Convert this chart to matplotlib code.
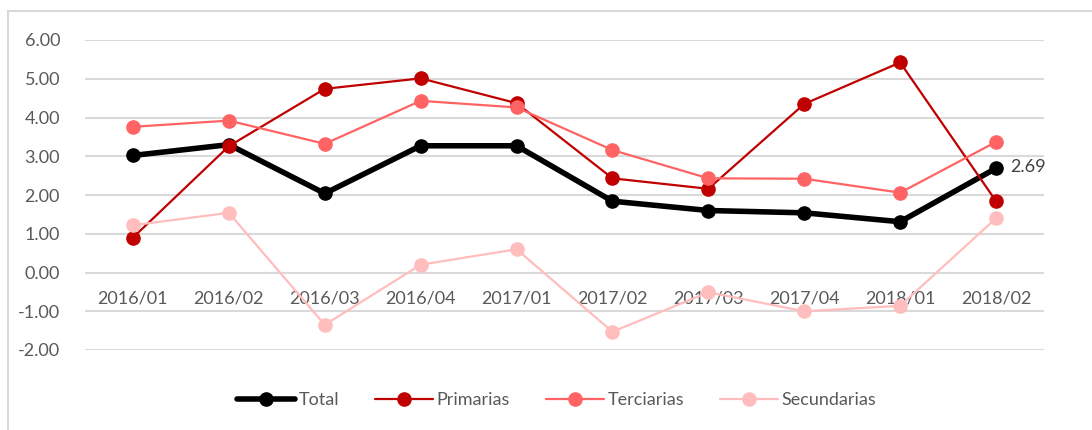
import matplotlib.pyplot as plt
from matplotlib.lines import Line2D

plt.rcParams['font.family'] = ['Lato', 'DejaVu Sans']

periods = ["2016/01", "2016/02", "2016/03", "2016/04", "2017/01",
           "2017/02", "2017/03", "2017/04", "2018/01", "2018/02"]
total = [3.02, 3.30, 2.04, 3.27, 3.27, 1.84, 1.60, 1.54, 1.31, 2.69]
primarias = [0.90, 3.26, 4.74, 5.01, 4.37, 2.43, 2.16, 4.35, 5.42, 1.84]
terciarias = [3.76, 3.92, 3.32, 4.43, 4.26, 3.16, 2.43, 2.42, 2.06, 3.37]
secundarias = [1.22, 1.54, -1.35, 0.20, 0.60, -1.53, -0.51, -1.00, -0.86, 1.40]

series = [
    ("Total", total, "#000000", 4.0),
    ("Primarias", primarias, "#C00000", 1.6),
    ("Terciarias", terciarias, "#FF6363", 1.6),
    ("Secundarias", secundarias, "#FFBDBD", 1.6),
]

fig = plt.figure(figsize=(10.92, 4.30), dpi=100)
ax = fig.add_axes([85 / 1092, 1 - 350 / 430, (1044 - 85) / 1092, 310 / 430])

x = range(len(periods))
for name, vals, color, lw in series:
    ax.plot(x, vals, color=color, lw=lw, marker="o", markersize=9.5,
            label=name, solid_capstyle="round", zorder=3)

ax.annotate(f"{total[-1]:.2f}", (x[-1], total[-1]), xytext=(10, 1),
            textcoords="offset points", va="center", ha="left",
            fontsize=13, color="#404040")

ax.set_xlim(-0.5, len(periods) - 0.5)
ax.set_ylim(-2, 6)
ax.set_yticks(range(-2, 7))
ax.set_yticklabels([f"{v:.2f}" for v in range(-2, 7)])
ax.set_xticks(list(x))
ax.set_xticklabels(periods)

ax.grid(axis="y", color="#D9D9D9", lw=1.5)
ax.set_axisbelow(True)
for s in ["top", "right", "left"]:
    ax.spines[s].set_visible(False)
ax.spines["bottom"].set_position(("data", 0))
ax.spines["bottom"].set_visible(False)
ax.tick_params(axis="both", length=0, labelsize=13, labelcolor="#595959")
ax.tick_params(axis="x", pad=13)
ax.tick_params(axis="y", pad=18)

fig.legend(loc="center", bbox_to_anchor=(0.51, 1 - 400 / 430), ncol=4,
           frameon=False, fontsize=13, handlelength=3.2, columnspacing=2.0,
           handletextpad=0.2, labelcolor="#595959")

# outer chart border (top and left edges visible)
fig.add_artist(Line2D([7.5 / 1092, 7.5 / 1092], [0, 1 - 11 / 430],
                      transform=fig.transFigure, color="#D9D9D9", lw=1.5))
fig.add_artist(Line2D([7.5 / 1092, 1], [1 - 11 / 430, 1 - 11 / 430],
                      transform=fig.transFigure, color="#D9D9D9", lw=1.5))

fig.savefig("out.png", dpi=100)
